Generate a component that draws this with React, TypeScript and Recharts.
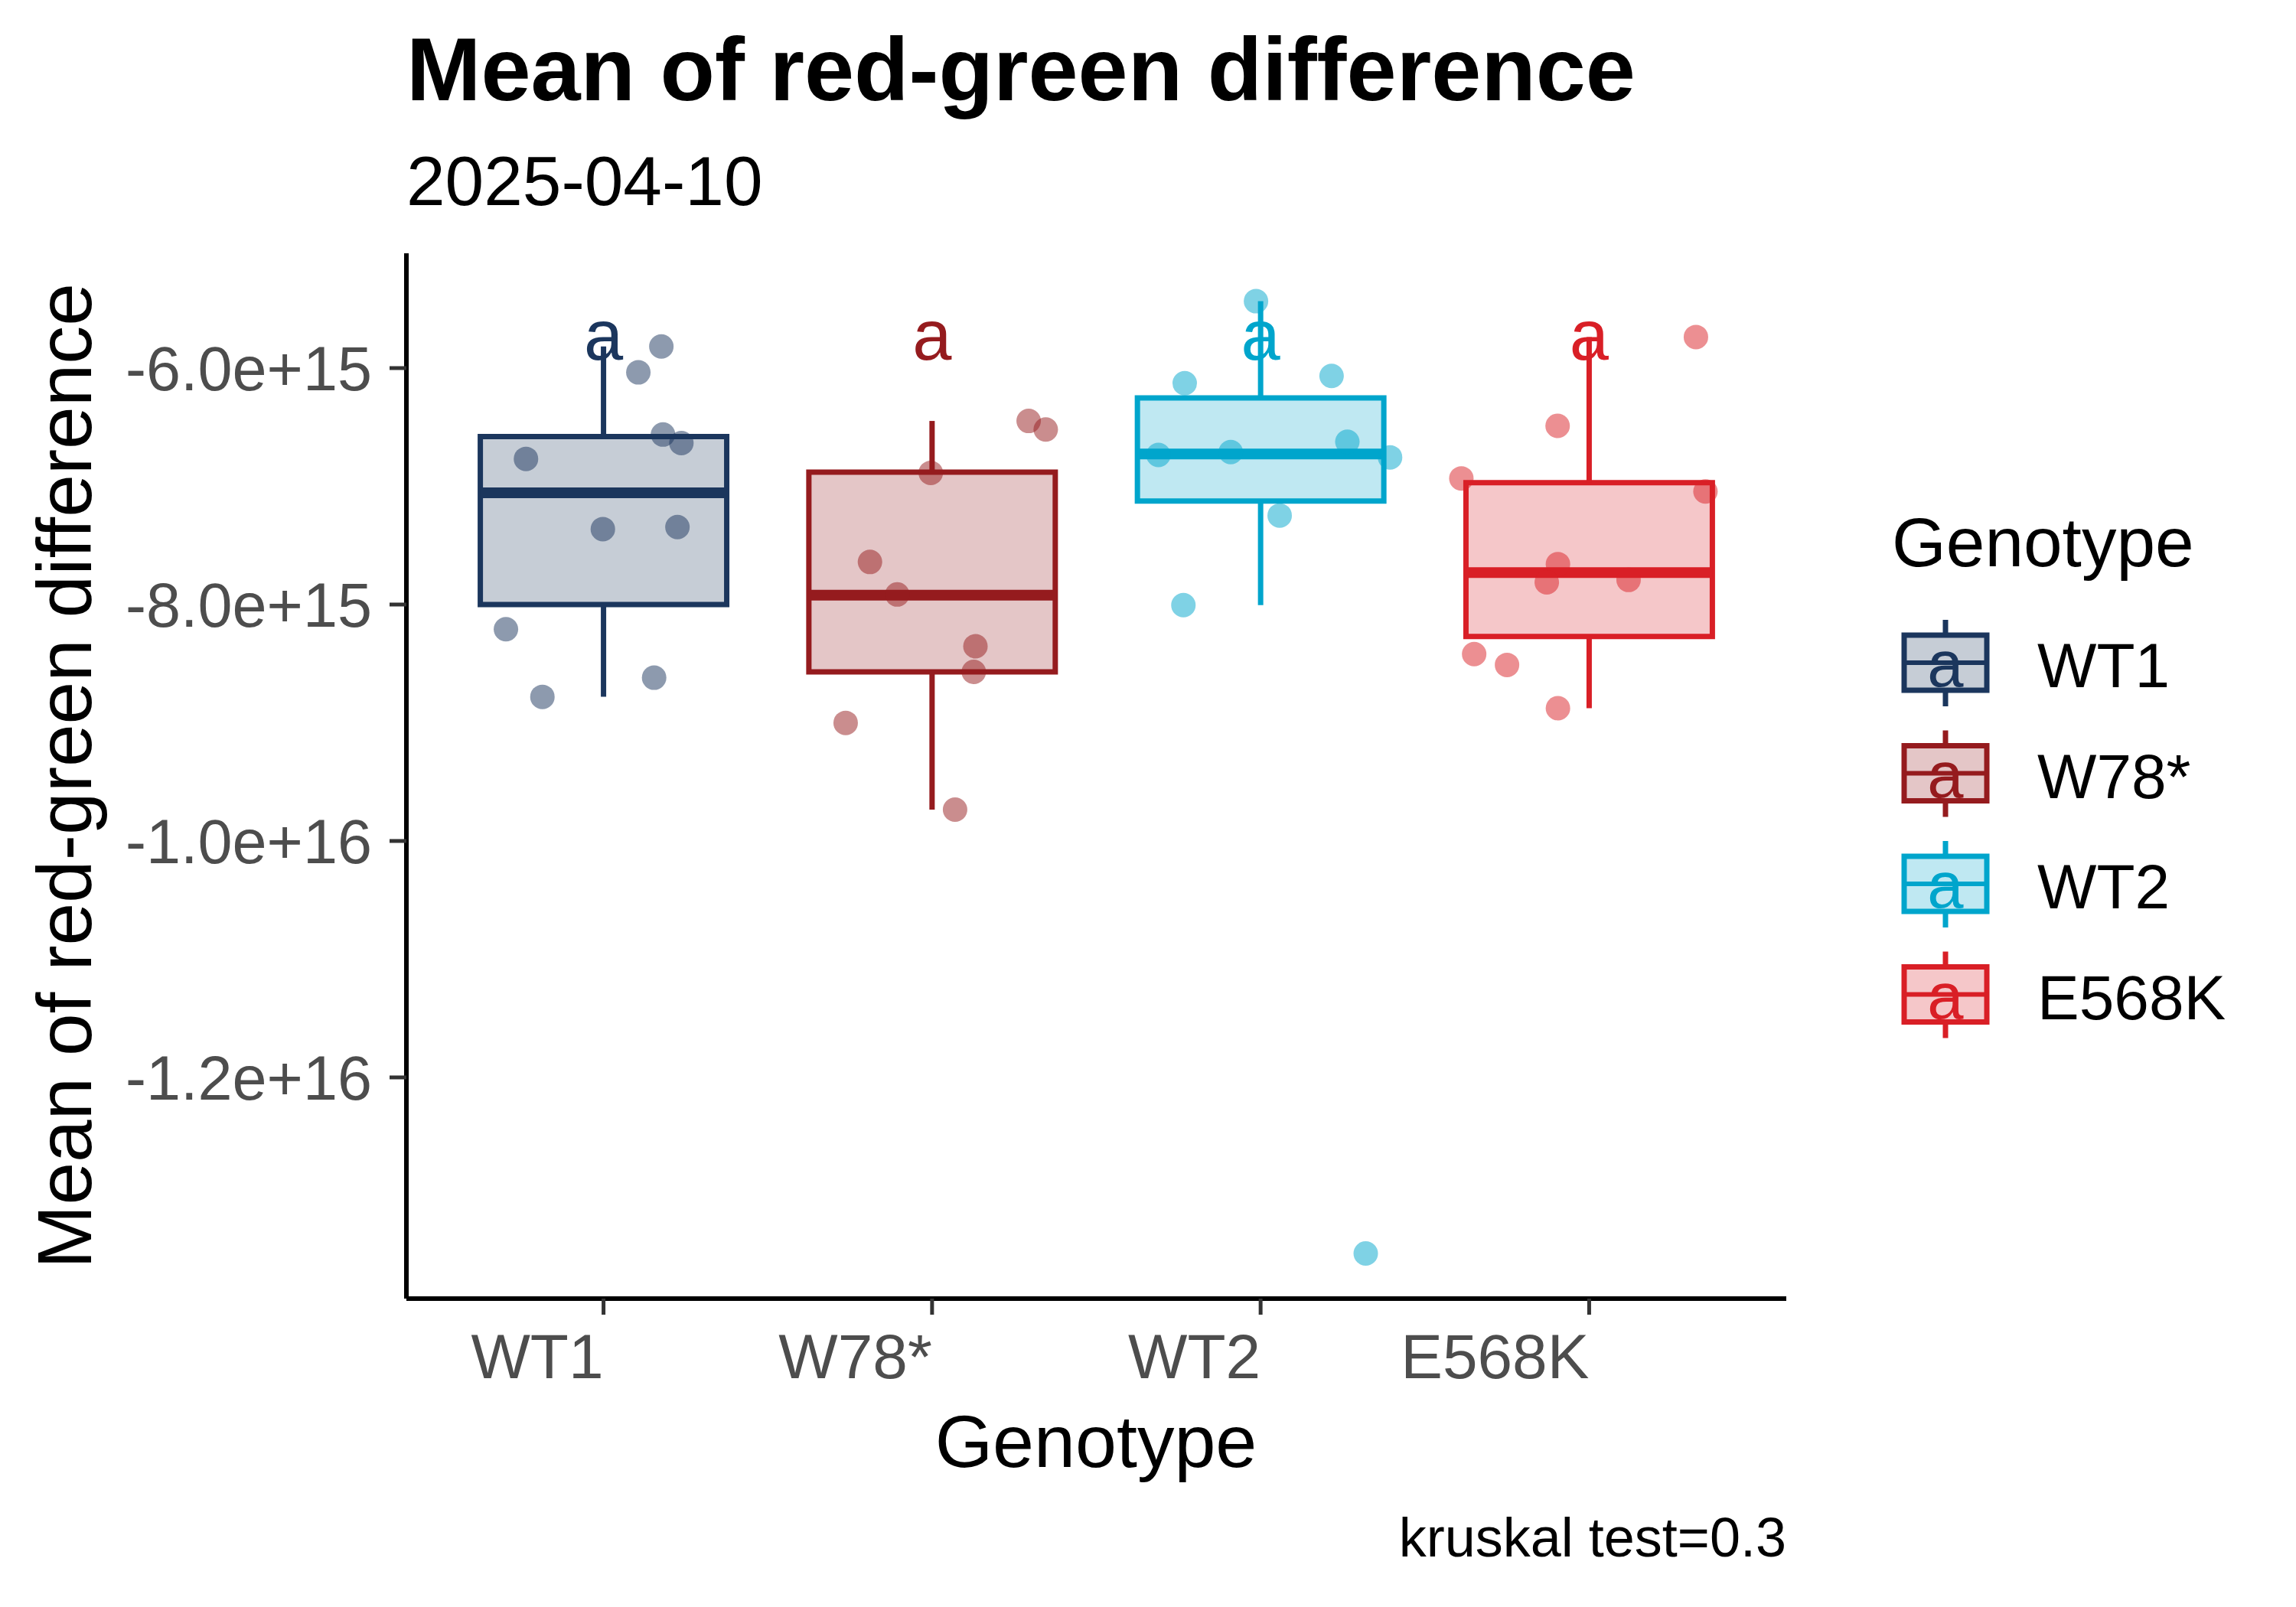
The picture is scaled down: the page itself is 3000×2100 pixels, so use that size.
import React from "react";
import { ComposedChart, XAxis, YAxis, Scatter, ReferenceArea, ReferenceLine } from "recharts";

const genotypes = ["WT1", "W78*", "WT2", "E568K"];
const colors = ["#1B365D", "#951B1E", "#00A5CC", "#D91F26"];

// box statistics per genotype
const whiskerLow = [-8.78e15, -9.735e15, -8.005e15, -8.877e15];
const q1 = [-8.0e15, -8.57e15, -7.124e15, -8.271e15];
const median = [-7.055e15, -7.92e15, -6.727e15, -7.73e15];
const q3 = [-6.58e15, -6.88e15, -6.252e15, -6.97e15];
const whiskerHigh = [-5.817e15, -6.447e15, -5.434e15, -5.737e15];

// compact letter display
const letters = ["a", "a", "a", "a"];
const letterY = [-5.93e15, -5.93e15, -5.93e15, -5.93e15];

// jittered samples (x in category units)
const wt1X = [1.176, 1.106, 1.181, 1.237, 0.764, 0.998, 1.225, 0.703, 1.154, 0.814];
const wt1Y = [-5.817e15, -6.036e15, -6.562e15, -6.634e15, -6.768e15, -7.362e15, -7.345e15, -8.209e15, -8.619e15, -8.781e15];
const w78X = [2.294, 2.346, 1.996, 1.811, 1.894, 2.132, 2.127, 1.737, 2.07];
const w78Y = [-6.447e15, -6.519e15, -6.886e15, -7.64e15, -7.915e15, -8.353e15, -8.57e15, -9.001e15, -9.735e15];
const wt2X = [2.986, 2.769, 3.216, 2.689, 2.909, 3.264, 3.394, 3.058, 2.765, 3.32];
const wt2Y = [-5.434e15, -6.128e15, -6.066e15, -6.735e15, -6.71e15, -6.623e15, -6.755e15, -7.247e15, -8.005e15, -1.3489e16];
const e568X = [4.325, 3.904, 3.611, 4.354, 3.905, 3.871, 4.12, 3.65, 3.75, 3.905];
const e568Y = [-5.737e15, -6.489e15, -6.933e15, -7.044e15, -7.658e15, -7.812e15, -7.792e15, -8.419e15, -8.511e15, -8.877e15];

const yTicks = [-6e15, -8e15, -1e16, -1.2e16];
const yTickLabels = ["-6.0e+15", "-8.0e+15", "-1.0e+16", "-1.2e+16"];
const xTicks = [1, 2, 3, 4];

const FONT = "Liberation Sans";
const BOX_HALF = 0.375;

const zip = (xs: number[], ys: number[]) => xs.map((x, i) => ({ x, y: ys[i] }));
const samples = [zip(wt1X, wt1Y), zip(w78X, w78Y), zip(wt2X, wt2Y), zip(e568X, e568Y)];
const letterRows = letters.map((label, i) => ({ x: i + 1, y: letterY[i], label, i }));

function XTick(props: any) {
  const { x, y, payload } = props;
  return (
    <text x={x} y={y + 81} textAnchor="end" fontSize={82} fontFamily={FONT} fill="#4D4D4D">
      {genotypes[payload.value - 1]}
    </text>
  );
}

function LetterShape(props: any) {
  const { cx, cy, payload } = props;
  return (
    <text x={cx} y={cy} textAnchor="middle" fontSize={92} fontFamily={FONT} fill={colors[payload.i]}>
      {payload.label}
    </text>
  );
}

function Annotations() {
  const keyX = 2542;
  const rowY = [866, 1010.5, 1155, 1299.5];
  return (
    <svg width={3000} height={2100} fontFamily={FONT} style={{ position: "absolute", left: 0, top: 0, pointerEvents: "none" }}>
      <text x={531} y={131} fontSize={117} fontWeight="bold" fill="#000">
        Mean of red-green difference
      </text>
      <text x={531} y={268} fontSize={91} fill="#000">
        2025-04-10
      </text>
      <text transform="translate(119,1014) rotate(-90)" textAnchor="middle" fontSize={100} fill="#000">
        Mean of red-green difference
      </text>
      <text x={1432} y={1917} textAnchor="middle" fontSize={97} fill="#000">
        Genotype
      </text>
      <text x={2334} y={2034} textAnchor="end" fontSize={72} fill="#000">
        kruskal test=0.3
      </text>
      <text x={2472} y={740} fontSize={91} fill="#000">
        Genotype
      </text>
      {genotypes.map((g, i) => {
        const c = rowY[i];
        return (
          <g key={g}>
            <line x1={keyX} x2={keyX} y1={c - 56} y2={c + 57} stroke={colors[i]} strokeWidth={7} />
            <rect x={keyX - 54} y={c - 36} width={108} height={72} fill="#fff" />
            <rect x={keyX - 54} y={c - 36} width={108} height={72} fill={colors[i]} fillOpacity={0.25} stroke={colors[i]} strokeWidth={7} />
            <line x1={keyX - 54} x2={keyX + 54} y1={c} y2={c} stroke={colors[i]} strokeWidth={6} />
            <text x={keyX} y={c + 31} textAnchor="middle" fontSize={85} fill={colors[i]}>
              {letters[i]}
            </text>
            <text x={2662} y={c + 32} fontSize={82} fill="#000">
              {g}
            </text>
          </g>
        );
      })}
    </svg>
  );
}

export default function App() {
  return (
    <div style={{ position: "absolute", left: 0, top: 0, width: 3000, height: 2100, background: "#fff", fontFamily: FONT }}>
      <ComposedChart width={3000} height={2100} margin={{ top: 331, right: 666, bottom: 253, left: 231 }}>
        <XAxis
          type="number"
          dataKey="x"
          domain={[0.4, 4.6]}
          ticks={xTicks}
          interval={0}
          allowDataOverflow
          height={150}
          tick={XTick}
          tickSize={21}
          axisLine={{ stroke: "#000", strokeWidth: 6 }}
          tickLine={{ stroke: "#333333", strokeWidth: 5 }}
        />
        <YAxis
          type="number"
          dataKey="y"
          domain={[-1.3871e16, -5.029e15]}
          ticks={yTicks}
          interval={0}
          allowDataOverflow
          width={300}
          tickFormatter={(v: number) => yTickLabels[yTicks.indexOf(v)] ?? String(v)}
          tick={{ fill: "#4D4D4D", fontSize: 81, fontFamily: FONT }}
          tickSize={22}
          tickMargin={23}
          axisLine={{ stroke: "#000", strokeWidth: 6 }}
          tickLine={{ stroke: "#333333", strokeWidth: 5 }}
        />
        {genotypes.map((g, i) => (
          <ReferenceLine
            key={"wu" + g}
            segment={[{ x: i + 1, y: q3[i] }, { x: i + 1, y: whiskerHigh[i] }]}
            stroke={colors[i]}
            strokeWidth={7}
          />
        ))}
        {genotypes.map((g, i) => (
          <ReferenceLine
            key={"wl" + g}
            segment={[{ x: i + 1, y: whiskerLow[i] }, { x: i + 1, y: q1[i] }]}
            stroke={colors[i]}
            strokeWidth={7}
          />
        ))}
        {genotypes.map((g, i) => (
          <ReferenceArea
            key={"box" + g}
            x1={i + 1 - BOX_HALF}
            x2={i + 1 + BOX_HALF}
            y1={q1[i]}
            y2={q3[i]}
            fill={colors[i]}
            fillOpacity={0.25}
            stroke={colors[i]}
            strokeWidth={7}
          />
        ))}
        {genotypes.map((g, i) => (
          <ReferenceLine
            key={"med" + g}
            segment={[{ x: i + 1 - BOX_HALF, y: median[i] }, { x: i + 1 + BOX_HALF, y: median[i] }]}
            stroke={colors[i]}
            strokeWidth={14}
          />
        ))}
        {genotypes.map((g, i) => (
          <Scatter
            key={"pts" + g}
            name={g}
            data={samples[i]}
            isAnimationActive={false}
            shape={(p: any) => <circle cx={p.cx} cy={p.cy} r={16} fill={colors[i]} fillOpacity={0.5} />}
          />
        ))}
        <Scatter data={letterRows} isAnimationActive={false} shape={LetterShape} />
      </ComposedChart>
      <Annotations />
    </div>
  );
}
